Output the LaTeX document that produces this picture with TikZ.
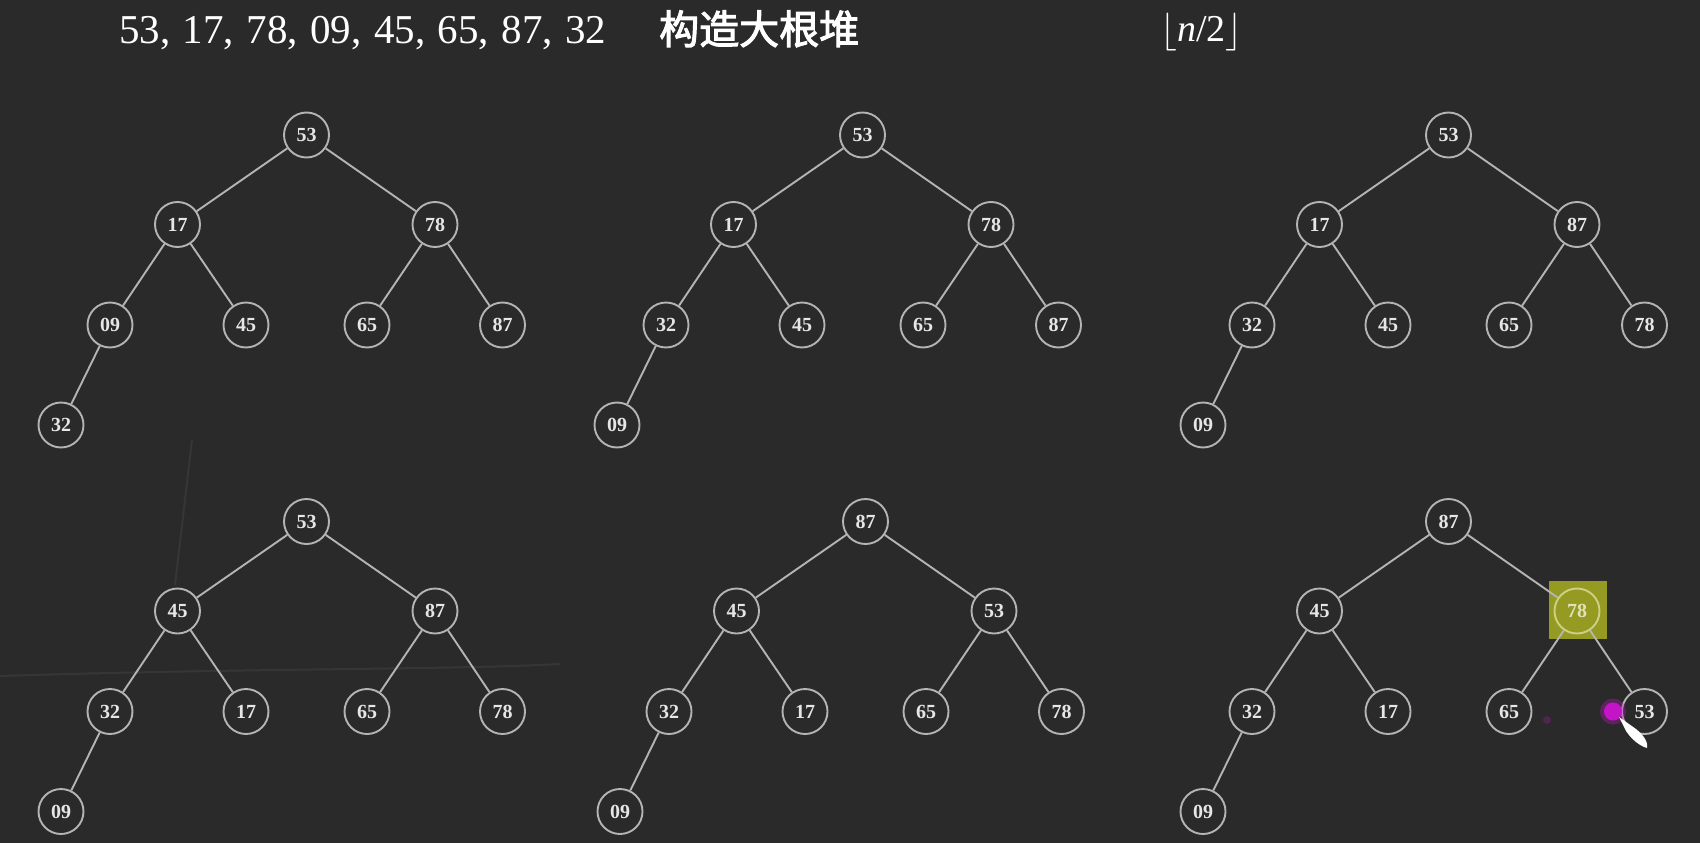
\RequirePackage{fix-cm}
\documentclass[tikz,border=0pt]{standalone}
\usepackage{fontspec}
\setmainfont{Liberation Serif}
\newfontfamily\cjk[AutoFakeBold=2.5]{Noto Sans CJK SC}
\definecolor{board}{HTML}{2A2A2A}
\definecolor{chalk}{HTML}{B4B4B4}
\definecolor{chalktext}{HTML}{E6E6E6}
\definecolor{hlsq}{HTML}{949A22}
\definecolor{hlline}{HTML}{CFCF86}
\definecolor{dotpink}{HTML}{C414C8}
\tikzset{
  hnode/.style={circle,draw=chalk,line width=1.9pt,minimum size=45pt,inner sep=0pt,
    text=chalktext,font=\bfseries\fontsize{20}{22}\selectfont},
  cnode/.style={},
  hlnode/.style={draw=hlline,text=hlline!60!white},
  hedge/.style={draw=chalk,line width=1.9pt},
  scratch/.style={draw=white,opacity=0.06,line width=2pt}
}
\newcommand\heaptree[9]{%
  \node[hnode] (#1a) at (306.5,135) {#2};
  \node[hnode] (#1b) at (177.5,224.5) {#3};
  \node[hnode,cnode] (#1c) at (435,224.5) {#4};
  \node[hnode] (#1d) at (110,325) {#5};
  \node[hnode] (#1e) at (246,325) {#6};
  \node[hnode] (#1f) at (367,325) {#7};
  \node[hnode] (#1g) at (502.5,325) {#8};
  \node[hnode] (#1h) at (61,425) {#9};
  \draw[hedge] (#1a)--(#1b) (#1a)--(#1c) (#1b)--(#1d) (#1b)--(#1e)
               (#1c)--(#1f) (#1c)--(#1g) (#1d)--(#1h);
}
\newcommand\sq{,\hspace{12.5pt}}
\begin{document}
\begin{tikzpicture}[x=1pt,y=-1pt]
\fill[board] (0,0) rectangle (1700,843);
\useasboundingbox (0,0) rectangle (1700,843);
% faint chalk scratches
\draw[scratch] (192,440) -- (175,585);
\draw[scratch] (0,676) .. controls (250,668) and (450,670) .. (560,664);

% header
\node[anchor=base west,text=white,font=\fontsize{41}{48}\selectfont,inner sep=0pt] (seq) at (119,44)
  {53\sq 17\sq 78\sq 09\sq 45\sq 65\sq 87\sq 32};
\node[anchor=base west,text=white,font=\cjk\bfseries\fontsize{40}{48}\selectfont,inner sep=0pt] (ttl) at (659,44)
  {构造大根堆};
\node[anchor=base west,text=white,font=\fontsize{38}{44}\selectfont,inner sep=0pt] (floor) at (1160,42)
  {$\lfloor$\textit{n}/2$\rfloor$};

% row 1
\begin{scope}
  \heaptree{ta}{53}{17}{78}{09}{45}{65}{87}{32}
\end{scope}
\begin{scope}[shift={(556,0)}]
  \heaptree{tb}{53}{17}{78}{32}{45}{65}{87}{09}
\end{scope}
\begin{scope}[shift={(1142,0)}]
  \heaptree{tc}{53}{17}{87}{32}{45}{65}{78}{09}
\end{scope}
% row 2
\begin{scope}[shift={(0,386.5)}]
  \heaptree{td}{53}{45}{87}{32}{17}{65}{78}{09}
\end{scope}
\begin{scope}[shift={(559,386.5)}]
  \heaptree{te}{87}{45}{53}{32}{17}{65}{78}{09}
\end{scope}
\begin{scope}[shift={(1142,386.5)},cnode/.style={hlnode}]
  \fill[hlsq] (406.5,194.5) rectangle (464.5,252.5);
  \heaptree{tf}{87}{45}{78}{32}{17}{65}{53}{09}
\end{scope}

% pointer marks
\fill[dotpink,opacity=0.35] (1613,711.5) circle (13);
\fill[dotpink] (1613,711.5) circle (9);
\fill[dotpink,opacity=0.25] (1547,720) circle (4);
\fill[white] (1619,717) -- (1636,729) .. controls (1646,737) and (1648,744) .. (1647,748)
  .. controls (1640,746) and (1632,740) .. (1626,731) -- cycle;
\end{tikzpicture}
\end{document}
